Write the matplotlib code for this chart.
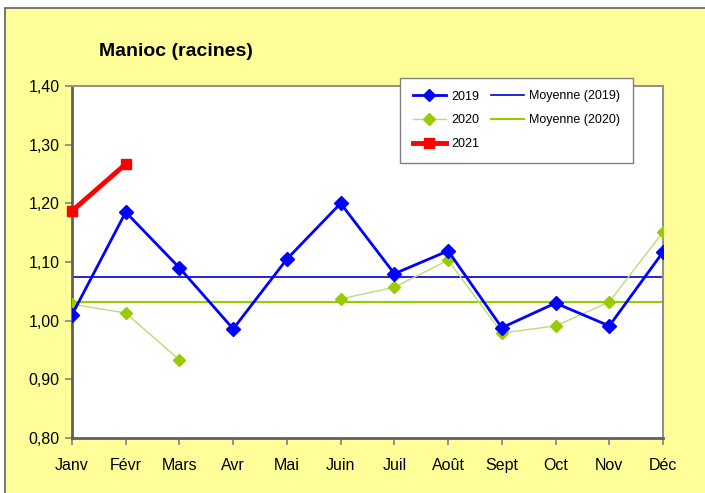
import numpy as np
import matplotlib.pyplot as plt
from matplotlib.patches import Rectangle

plt.rcParams['font.family'] = ['Liberation Sans', 'DejaVu Sans']

# données (prix moyens)
mois = ["Janv", "Févr", "Mars", "Avr", "Mai", "Juin", "Juil", "Août", "Sept", "Oct", "Nov", "Déc"]
prix_2019 = [1.010, 1.185, 1.090, 0.986, 1.105, 1.200, 1.080, 1.119, 0.988, 1.030, 0.991, 1.117]
prix_2020 = [1.028, 1.013, 0.933, np.nan, np.nan, 1.037, 1.057, 1.103, 0.979, 0.991, 1.032, 1.151]
prix_2021 = [1.187, 1.267]
y_ticks = [0.80, 0.90, 1.00, 1.10, 1.20, 1.30, 1.40]
y_labels = ["0,80", "0,90", "1,00", "1,10", "1,20", "1,30", "1,40"]

moy_2019 = np.nanmean(prix_2019)
moy_2020 = np.nanmean(prix_2020)

fig = plt.figure(figsize=(7.05, 4.93), dpi=100, facecolor="white")
# fond jaune avec cadre
fig.patches.append(Rectangle((5 / 705, -0.01), 1.0, 1 - 8 / 493 + 0.01, transform=fig.transFigure,
                             facecolor="#ffff99", edgecolor="#606060", linewidth=1.2, zorder=-1))

ax = fig.add_axes([72 / 705, 1 - 438 / 493, 591 / 705, 352 / 493])
ax.set_facecolor("white")

x = np.arange(len(mois))
ax.axhline(moy_2019, color="#0000cc", linewidth=1.2, zorder=2)
ax.axhline(moy_2020, color="#99cc00", linewidth=1.5, zorder=2)

ax.plot(x, prix_2020, color="#bbdd77", linewidth=1.0, marker="D", markersize=6.5,
        markerfacecolor="#99cc00", markeredgecolor="#99cc00", zorder=3)
ax.plot(x, prix_2019, color="#0000ff", linewidth=2.0, marker="D", markersize=7,
        markerfacecolor="#0000ff", markeredgecolor="#0000ff", zorder=4)
ax.plot(x[:len(prix_2021)], prix_2021, color="#ff0000", linewidth=3.5, marker="s", markersize=7.5,
        markerfacecolor="#ff0000", markeredgecolor="#ff0000", zorder=5, clip_on=False)

ax.set_xlim(0, 11)
ax.set_ylim(0.80, 1.40)
ax.set_xticks(x)
ax.set_xticklabels(mois, fontsize=11.5)
ax.set_yticks(y_ticks)
ax.set_yticklabels(y_labels, fontsize=11.5)
ax.tick_params(axis="both", direction="out", length=5, color="#808080", width=1.2)
ax.tick_params(axis="x", pad=18)
ax.tick_params(axis="y", pad=4)
for lab in ax.get_xticklabels():
    lab.set_verticalalignment("baseline")

for side in ["left", "bottom"]:
    ax.spines[side].set_color("#606060")
    ax.spines[side].set_linewidth(2)
for side in ["top", "right"]:
    ax.spines[side].set_color("#909090")
    ax.spines[side].set_linewidth(1.5)

fig.text(176 / 705, 1 - 52 / 493, "Manioc (racines)", fontsize=14, fontweight="bold",
         ha="center", va="center")

# légende
h19, = ax.plot([], [], color="#0000ff", linewidth=2.0, marker="D", markersize=6)
h20, = ax.plot([], [], color="#bbdd77", linewidth=1.0, marker="D", markersize=6,
               markerfacecolor="#99cc00", markeredgecolor="#99cc00")
h21, = ax.plot([], [], color="#ff0000", linewidth=3.5, marker="s", markersize=7)
hm19, = ax.plot([], [], color="#0000cc", linewidth=1.2)
hm20, = ax.plot([], [], color="#99cc00", linewidth=1.5)
leg = ax.legend([h19, h20, h21, hm19, hm20],
                ["2019", "2020", "2021", "Moyenne (2019)", "Moyenne (2020)"],
                ncol=2, loc="upper left", bbox_to_anchor=(400 / 705, 1 - 78 / 493),
                bbox_transform=fig.transFigure, borderaxespad=0, fontsize=9,
                handlelength=2.7, handletextpad=0.4, columnspacing=0.9, labelspacing=0.95,
                borderpad=1.0, fancybox=False, framealpha=1, edgecolor="#808080")
leg.get_frame().set_linewidth(1.0)
leg.set_zorder(10)

fig.savefig("out.png", dpi=100)
